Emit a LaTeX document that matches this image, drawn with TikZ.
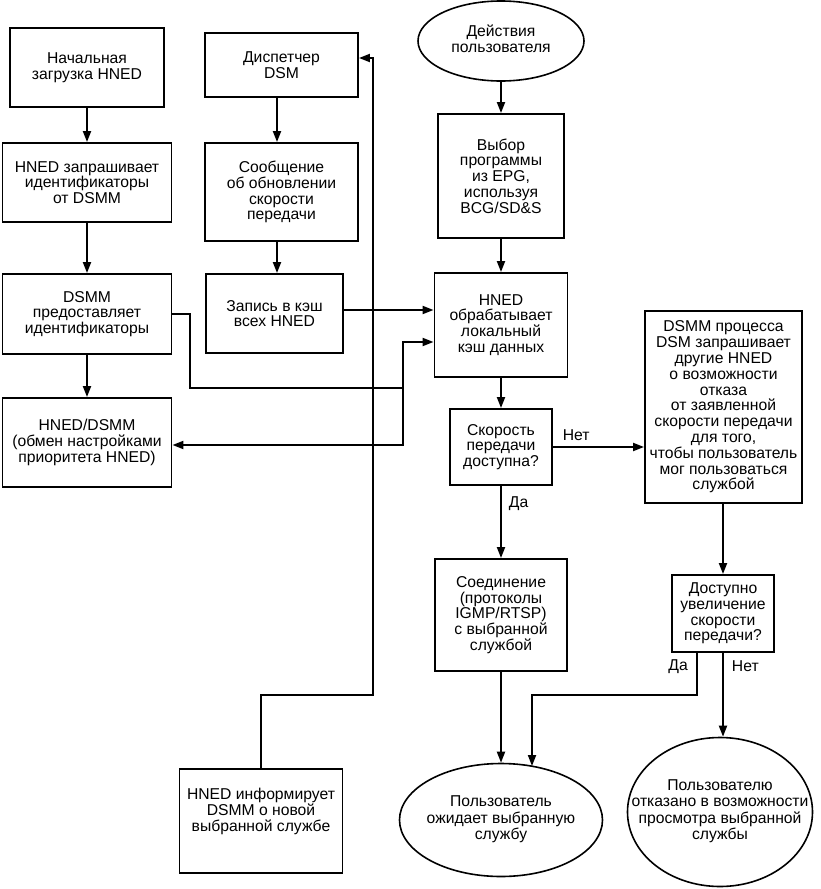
\documentclass[tikz,border=0pt]{standalone}
\usepackage{fontspec}
\setmainfont{Liberation Sans}
\usetikzlibrary{arrows.meta,shapes.geometric,calc}
\newcommand{\ctext}[1]{\makebox[0pt]{\begin{tabular}{@{}c@{}}#1\end{tabular}}}
\begin{document}
\begin{tikzpicture}[x=1pt,y=-1pt,
  every node/.style={font=\fontsize{15.7}{15.8}\selectfont},
  box/.style={draw, line width=1.9pt, rectangle, align=center, inner sep=0pt},
  oval/.style={draw, line width=1.6pt, ellipse, inner sep=0pt},
  conn/.style={line width=1.9pt, -{Triangle[length=11pt,width=8pt]}},
  plain/.style={line width=1.9pt},
  lbl/.style={inner sep=0pt}]
\useasboundingbox (0,0) rectangle (821,889);

% left column
\node[box, minimum width=154pt, minimum height=79pt] (A) at (87,67.5) {Начальная\\загрузка HNED};
\node[box, minimum width=169pt, minimum height=79pt] (B) at (87,182.5) {HNED запрашивает\\идентификаторы\\от DSMM};
\node[box, minimum width=169pt, minimum height=80pt] (C) at (87,314) {DSMM\\предоставляет\\идентификаторы};
\node[box, minimum width=169pt, minimum height=89pt] (D) at (87,442.5) {HNED/DSMM\\(обмен настройками\\приоритета HNED)};

% second column
\node[box, minimum width=153pt, minimum height=64pt] (E) at (281.5,65) {Диспетчер\\DSM};
\node[box, minimum width=153pt, minimum height=98pt] (F) at (281.5,192) {Сообщение\\об обновлении\\скорости\\передачи};
\node[box, minimum width=137pt, minimum height=79pt] (G) at (274.5,313.5) {Запись в кэш\\всех HNED};
\node[box, minimum width=163pt, minimum height=104pt] (H) at (261,821) {HNED информирует\\DSMM о новой\\выбранной службе\\[6pt]};

% third column
\node[oval, minimum width=166pt, minimum height=80pt] (U) at (501,41) {\ctext{Действия\\пользователя}};
\node[box, minimum width=126pt, minimum height=124pt] (P) at (501,176) {Выбор\\программы\\из EPG,\\используя\\BCG/SD\&S};
\node[box, minimum width=133pt, minimum height=104pt] (Q) at (501,325) {HNED\\обрабатывает\\локальный\\кэш данных};
\node[box, minimum width=102pt, minimum height=76pt] (R) at (501,447) {Скорость\\передачи\\доступна?};
\node[box, minimum width=132pt, minimum height=112pt] (T) at (501,615) {Соединение\\(протоколы\\IGMP/RTSP)\\с выбранной\\службой};
\node[oval, minimum width=203pt, minimum height=113pt] (W) at (501,820) {\ctext{Пользователь\\ожидает выбранную\\службу}};

% right column
\node[box, minimum width=157pt, minimum height=192pt] (S) at (723.5,407) {DSMM процесса\\DSM запрашивает\\другие HNED\\о возможности\\отказа\\от заявленной\\скорости передачи\\для того,\\чтобы пользователь\\мог пользоваться\\службой};
\node[box, minimum width=102pt, minimum height=77pt] (V) at (723,613.5) {Доступно\\увеличение\\скорости\\передачи?};
\node[oval, minimum width=185pt, minimum height=149pt] (X) at (720,812) {\ctext{Пользователю\\отказано в возможности\\просмотра выбранной\\службы}};

\coordinate (j) at (403,388);
\coordinate (wtop) at (532,766);

% connectors
\draw[conn] (A.south) -- (A.south |- B.north);
\draw[conn] (B.south) -- (B.south |- C.north);
\draw[conn] (C.south) -- (C.south |- D.north);
\draw[conn] ([xshift=-4.5pt]E.south) -- ([xshift=-4.5pt]E.south |- F.north);
\draw[conn] ([xshift=-4.5pt]F.south) -- ([xshift=-4.5pt]F.south |- G.north);
\draw[conn] (U.south) -- (P.north);
\draw[conn] (P.south) -- (P.south |- Q.north);
\draw[conn] (Q.south) -- (Q.south |- R.north);
\draw[conn] ([yshift=3.5pt]G.east) coordinate (g1) -- (g1 -| Q.west);
\draw[plain] (C.east) -| (190,388) -- (j);
\draw[conn] (j) |- ([yshift=-17pt]Q.west);
\draw[conn] (j) |- ([yshift=-2.5pt]D.east);
\draw[conn] (R.east) -- (R.east -| S.west) node[lbl, pos=0, anchor=south west, xshift=9pt, yshift=5pt] {Нет};
\draw[conn] (R.south) -- (R.south |- T.north) node[lbl, pos=0, anchor=north west, xshift=7pt, yshift=-10pt] {Да};
\draw[conn] (S.south -| V.north) -- (V.north);
\draw[conn] ([xshift=-26pt]V.south) coordinate (v1) -- ++(0,42) -| (wtop);
\node[lbl, anchor=north east] at ([xshift=-9pt,yshift=-7pt]v1) {Да};
\draw[conn] (V.south) -- (V.south |- X.north) node[lbl, pos=0, anchor=north west, xshift=8pt, yshift=-7pt] {Нет};
\draw[conn] (T.south) -- (T.south |- W.north);
\draw[conn] (H.north) |- (373,695) |- ([yshift=7pt]E.east);
\end{tikzpicture}
\end{document}
